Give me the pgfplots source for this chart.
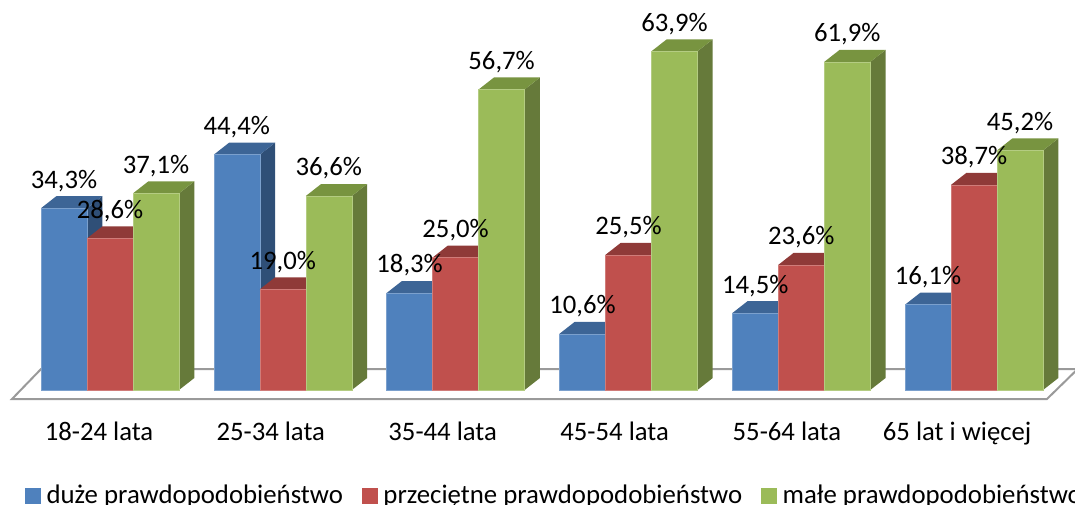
\documentclass[border=0pt]{standalone}
\usepackage{fontspec}
\setmainfont{Carlito}
\usepackage{pgfplots}
\usepackage{pgfplotstable}
\pgfplotsset{compat=1.18}

\definecolor{bluefront}{HTML}{4F81BD}
\definecolor{bluetop}{HTML}{3D6596}
\definecolor{blueside}{HTML}{2F4F77}
\definecolor{redfront}{HTML}{C0504D}
\definecolor{redtop}{HTML}{8F3A38}
\definecolor{redside}{HTML}{7A2F2D}
\definecolor{greenfront}{HTML}{9BBB59}
\definecolor{greentop}{HTML}{789440}
\definecolor{greenside}{HTML}{667A3A}
\definecolor{floorline}{HTML}{9A9A9A}

% values in percent, one row per age group
\pgfplotstableread{
x  duze przec male
0  34.3 28.6 37.1
1  44.4 19.0 36.6
2  18.3 25.0 56.7
3  10.6 25.5 63.9
4  14.5 23.6 61.9
5  16.1 38.7 45.2
}\agedata

% bar width and 3D depth, in axis units
\def\bw{0.2662}
\def\dx{0.0885}
\def\dy{2.26}

% #1 group, #2 slot (-1,0,1), #3 column, #4 colour prefix
\newcommand{\onebar}[4]{%
  \pgfplotstablegetelem{#1}{#3}\of\agedata
  \let\val\pgfplotsretval
  \pgfmathsetmacro{\xa}{#1+(#2-0.5)*\bw}
  \pgfmathsetmacro{\xb}{#1+(#2+0.5)*\bw}
  \pgfmathsetmacro{\xc}{\xb+\dx}
  \pgfmathsetmacro{\xd}{\xa+\dx}
  \pgfmathsetmacro{\yt}{\val+\dy}
  \addplot[forget plot, draw=none, fill=#4side] coordinates {(\xb,0) (\xc,\dy) (\xc,\yt) (\xb,\val)} --cycle;
  \addplot[forget plot, draw=none, fill=#4top] coordinates {(\xa,\val) (\xb,\val) (\xc,\yt) (\xd,\yt)} --cycle;
  \addplot[forget plot, draw=#4front!75!white, line width=0.6pt, fill=#4front] coordinates {(\xa,0) (\xb,0) (\xb,\val) (\xa,\val)} --cycle;
}

\pgfplotsset{
  valuelabels/.style={
    forget plot, draw=none, mark=none,
    nodes near coords={\pgfmathprintnumber{\pgfplotspointmeta}\%},
    point meta=y,
    every node near coord/.style={anchor=center, yshift=27.5pt, text=black, font=\fontsize{26.7}{30}\selectfont, inner sep=0pt},
  },
}

\begin{document}
\begin{tikzpicture}[x=1pt,y=1pt]
\path[use as bounding box, clip] (0,-106) rectangle (1075,399);
\begin{axis}[
    at={(0,0)}, anchor=south west,
    scale only axis,
    width=1075pt, height=399pt,
    xmin=-0.6366, xmax=5.584,
    ymin=-1.698, ymax=73.58,
    clip=false,
    axis line style={draw=none},
    ytick=\empty,
    xtick={-0.0637,0.93,1.925,2.92,3.917,4.902},
    xticklabels={18-24 lata,25-34 lata,35-44 lata,45-54 lata,55-64 lata,65 lat i więcej},
    major tick length=0pt,
    xticklabel style={font=\fontsize{26.7}{30}\selectfont, anchor=base, yshift=-41.5pt, text=black},
    /pgf/number format/.cd, fixed, fixed zerofill, precision=1, use comma, assume math mode=true,
    /pgfplots/.cd,
    legend columns=-1,
    legend style={
      at={(25pt,-96pt)}, anchor=west, draw=none, fill=none, inner sep=0pt,
      font=\fontsize{26.8}{30}\selectfont,
      /tikz/every even column/.append style={column sep=17pt},
      /tikz/every odd column/.append style={column sep=4.5pt},
    },
    legend image code/.code={\fill[#1] (0pt,-8pt) rectangle (14.5pt,6.5pt);},
  ]
  % legend entries
  \addlegendimage{bluefront}\addlegendentry{duże prawdopodobieństwo}
  \addlegendimage{redfront}\addlegendentry{przeciętne prawdopodobieństwo}
  \addlegendimage{greenfront}\addlegendentry{małe prawdopodobieństwo}

  % floor of the 3D chart
  \addplot[forget plot, draw=floorline, line width=2pt, fill=none] coordinates {(-0.567,-1.698) (5.422,-1.698) (5.6,3.96) (-0.399,3.96)} --cycle;

  \pgfplotsforeachungrouped \i in {0,...,5}{
    \onebar{\i}{-1}{duze}{blue}
    \onebar{\i}{0}{przec}{red}
    \onebar{\i}{1}{male}{green}
  }

  % percentage labels
  \addplot[valuelabels] table[x=x, y=duze, x expr={\thisrow{x}-\bw}] {\agedata};
  \addplot[valuelabels] table[x=x, y=przec] {\agedata};
  \addplot[valuelabels] table[x=x, y=male, x expr={\thisrow{x}+\bw}] {\agedata};
\end{axis}
\end{tikzpicture}
\end{document}
